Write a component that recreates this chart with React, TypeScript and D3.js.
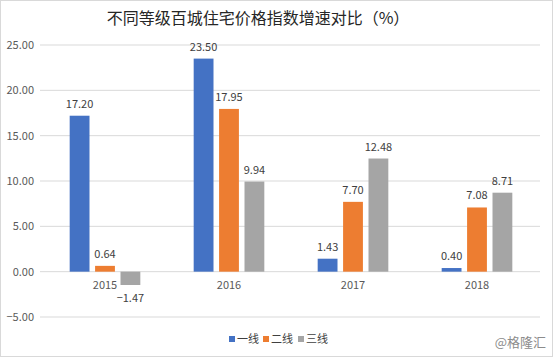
import React from "react";
import * as d3 from "d3";

const categories = ["2015", "2016", "2017", "2018"];
const seriesNames = ["一线", "二线", "三线"];
const tier1 = [17.2, 23.5, 1.43, 0.4];
const tier2 = [0.64, 17.95, 7.7, 7.08];
const tier3 = [-1.47, 9.94, 12.48, 8.71];
const yTicks = [-5, 0, 5, 10, 15, 20, 25];
const colors = ["#4472C4", "#ED7D31", "#A5A5A5"];
const title = "不同等级百城住宅价格指数增速对比（%）";
const watermark = "@格隆汇";

const W = 553;
const H = 357;
const FONT = "'Noto Sans CJK SC', 'Noto Sans', sans-serif";

export default function App() {
  const series = [tier1, tier2, tier3];
  const x = d3.scaleBand<string>().domain(categories).range([43, 539]);
  const xInner = d3
    .scaleBand<number>()
    .domain([0, 1, 2])
    .range([0, x.bandwidth()])
    .paddingInner(0.22)
    .paddingOuter(1.05);
  const y = d3.scaleLinear().domain([-5, 25]).range([317, 45]);
  const fmt = d3.format(".2f");

  const legendX = [229, 263, 298];

  return (
    <svg
      width={W}
      height={H}
      style={{ position: "absolute", left: 0, top: 0, fontFamily: FONT }}
    >
      <rect x={0.5} y={0.5} width={W - 1} height={H - 1} fill="#fff" stroke="#D9D9D9" />
      <text x={258} y={24} textAnchor="middle" fontSize={16} fill="#262626">
        {title}
      </text>
      {yTicks.map((t) => (
        <g key={t}>
          <line x1={40} x2={540} y1={y(t)} y2={y(t)} stroke="#D9D9D9" strokeWidth={1} />
          <text x={34} y={y(t) + 4} textAnchor="end" fontSize={11} fill="#595959">
            {fmt(t)}
          </text>
        </g>
      ))}
      {categories.map((c, i) => (
        <g key={c} transform={`translate(${x(c)},0)`}>
          {series.map((s, j) => {
            const v = s[i];
            const bx = xInner(j)!;
            const bw = xInner.bandwidth();
            const top = Math.min(y(v), y(0));
            const h = Math.abs(y(v) - y(0));
            return (
              <g key={j}>
                <rect x={bx} y={top} width={bw} height={h} fill={colors[j]} />
                <text
                  x={bx + bw / 2}
                  y={v >= 0 ? y(v) - 8 : y(v) + 17}
                  textAnchor="middle"
                  fontSize={11}
                  fill="#404040"
                >
                  {fmt(v)}
                </text>
              </g>
            );
          })}
          <text
            x={x.bandwidth() / 2}
            y={289}
            textAnchor="middle"
            fontSize={11}
            fill="#595959"
          >
            {c}
          </text>
        </g>
      ))}
      {seriesNames.map((n, j) => (
        <g key={n} transform={`translate(${legendX[j]},0)`}>
          <rect x={0} y={336} width={6} height={6} fill={colors[j]} />
          <text x={8} y={343} fontSize={11} fill="#404040">
            {n}
          </text>
        </g>
      ))}
      <text x={546} y={347} textAnchor="end" fontSize={13} fill="#8C8C8C">
        {watermark}
      </text>
    </svg>
  );
}
